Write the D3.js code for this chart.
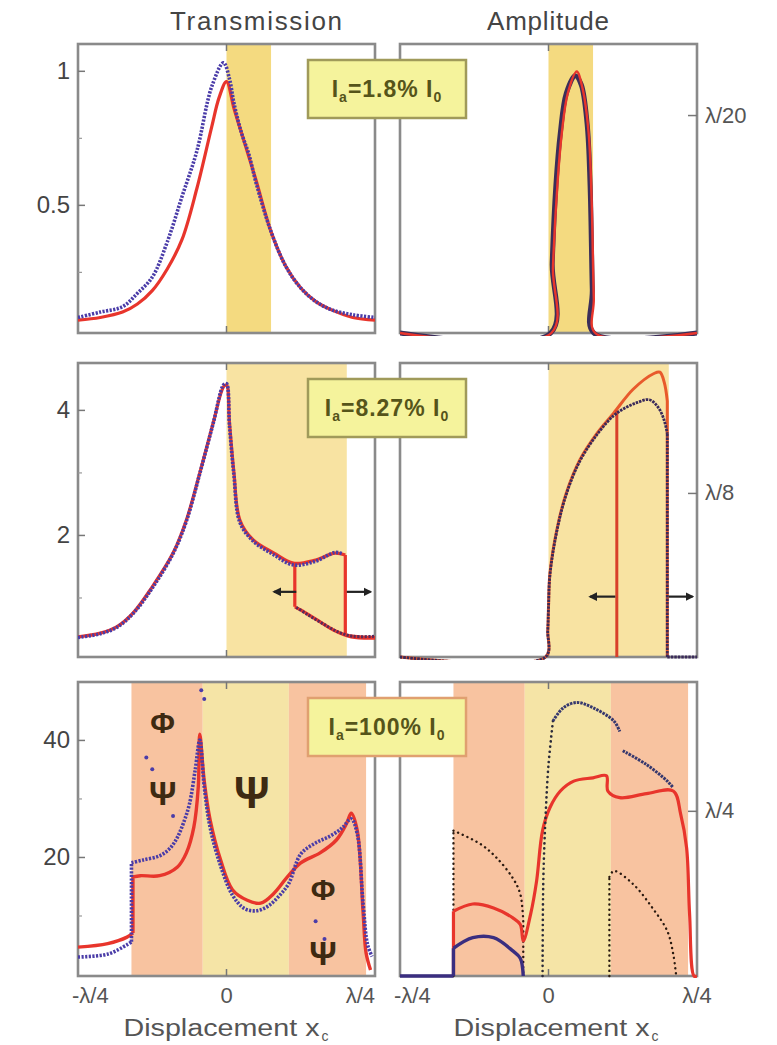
<!DOCTYPE html>
<html lang="en">
<head>
<meta charset="utf-8">
<title>Transmission / Amplitude</title>
<script src="https://cdn.jsdelivr.net/npm/d3@7"></script>
<style>
  body { margin: 0; background: #fff; }
  text { font-family: "Liberation Sans", Arial, sans-serif; }
</style>
</head>
<body>
<svg width="777" height="1045"></svg>
<script>
// ---- data (x in units of lambda/4, -1 .. 1) ----
const xTickVals = [-1, 0, 1];
const xTickLabels = ["-λ/4", "0", "λ/4"];
const boxLabels = ["1.8%", "8.27%", "100%"];

// row 1 : transmission
const t1RedX = [-1, -0.85, -0.7, -0.6, -0.5, -0.4, -0.3, -0.2, -0.1, -0.05, 0, 0.05, 0.1, 0.15, 0.2, 0.3, 0.4, 0.5, 0.6, 0.7, 0.85, 1];
const t1RedY = [0.07, 0.08, 0.1, 0.13, 0.18, 0.26, 0.37, 0.56, 0.79, 0.9, 0.96, 0.86, 0.77, 0.68, 0.59, 0.40, 0.27, 0.19, 0.14, 0.11, 0.08, 0.07];
const t1BlueX = [-1, -0.85, -0.7, -0.6, -0.5, -0.4, -0.3, -0.2, -0.1, -0.02, 0.02, 0.05, 0.1, 0.15, 0.2, 0.3, 0.4, 0.5, 0.6, 0.7, 0.85, 1];
const t1BlueY = [0.08, 0.1, 0.12, 0.17, 0.23, 0.36, 0.53, 0.70, 0.94, 1.03, 0.97, 0.88, 0.77, 0.69, 0.58, 0.40, 0.27, 0.19, 0.14, 0.11, 0.09, 0.08];
// row 1 : amplitude
const a1RedX = [-1, 0.02, 0.03, 0.06, 0.09, 0.13, 0.19, 0.23, 0.27, 0.29, 0.305, 0.315, 1];
const a1RedY = [0, 0, 0.015, 0.034, 0.046, 0.055, 0.06, 0.056, 0.046, 0.031, 0.008, 0, 0];
const a1BlueX = [-1, 0.015, 0.025, 0.05, 0.08, 0.12, 0.18, 0.22, 0.26, 0.28, 0.295, 0.305, 1];
const a1BlueY = [0, 0, 0.016, 0.034, 0.046, 0.055, 0.059, 0.057, 0.048, 0.034, 0.01, 0, 0];

// row 2 : transmission
const t2RedX = [-1, -0.85, -0.74, -0.63, -0.5, -0.36, -0.27, -0.18, -0.09, -0.02, 0, 0.02, 0.05, 0.09, 0.18, 0.32, 0.45, 0.6, 0.73, 0.8, 0.8, 0.9, 1];
const t2RedY = [0.37, 0.43, 0.53, 0.75, 1.17, 1.71, 2.24, 2.99, 3.79, 4.37, 4.4, 3.8, 3.0, 2.24, 1.92, 1.71, 1.55, 1.6, 1.71, 1.68, 0.4, 0.37, 0.36];
const t2RedLowX = [0.46, 0.46, 0.5, 0.61, 0.72, 0.84, 1];
const t2RedLowY = [1.55, 0.85, 0.8, 0.64, 0.48, 0.37, 0.35];
const t2BlueX = [-1, -0.85, -0.74, -0.63, -0.5, -0.36, -0.27, -0.18, -0.09, -0.02, 0, 0.02, 0.05, 0.09, 0.18, 0.32, 0.45, 0.6, 0.73, 0.78];
const t2BlueY = [0.36, 0.42, 0.52, 0.74, 1.15, 1.70, 2.22, 2.98, 3.78, 4.4, 4.42, 3.75, 2.95, 2.2, 1.9, 1.68, 1.52, 1.58, 1.72, 1.7];
const t2BlueLowX = [0.47, 0.55, 0.65, 0.75, 0.85, 1];
const t2BlueLowY = [0.84, 0.72, 0.58, 0.45, 0.38, 0.38];
// row 2 : amplitude
const a2RedX = [-1, -0.02, -0.005, 0.0, 0.01, 0.06, 0.12, 0.21, 0.33, 0.44, 0.57, 0.71, 0.75, 0.78, 0.8, 0.8];
const a2RedY = [0, 0, 0.02, 0.038, 0.064, 0.099, 0.125, 0.150, 0.171, 0.186, 0.204, 0.216, 0.217, 0.209, 0.195, 0];
const a2RedLowX = [0.46, 0.46];
const a2RedLowY = [0.188, 0];
const a2BlueX = [-1, -0.02, -0.005, 0.0, 0.01, 0.06, 0.12, 0.21, 0.33, 0.44, 0.52, 0.6, 0.68, 0.74, 0.78, 0.8, 0.8, 1];
const a2BlueY = [0, 0, 0.02, 0.037, 0.063, 0.098, 0.124, 0.149, 0.170, 0.184, 0.19, 0.194, 0.196, 0.19, 0.18, 0.17, 0, 0];

// row 3 : transmission
const t3RedX = [-1, -0.8, -0.67, -0.63, -0.63, -0.58, -0.45, -0.33, -0.27, -0.22, -0.19, -0.18, -0.15, -0.11, -0.04, 0.04, 0.14, 0.23, 0.32, 0.41, 0.5, 0.63, 0.74, 0.81, 0.84, 0.88, 0.92, 0.94, 0.97];
const t3RedY = [4.6, 5.2, 6.3, 7, 16.6, 16.8, 16.8, 18.3, 20.7, 25.1, 32, 41, 33, 26.3, 19.5, 14.4, 12.6, 12.1, 13.8, 16.6, 19, 20.7, 22.9, 25.8, 27.5, 24.6, 10.4, 3.6, 0.7];
const t3BlueX = [-1, -0.8, -0.67, -0.64, -0.64, -0.56, -0.45, -0.38, -0.33, -0.29, -0.25, -0.21, -0.18, -0.15, -0.11, -0.04, 0.04, 0.12, 0.2, 0.28, 0.36, 0.42, 0.5, 0.6, 0.7, 0.78, 0.84, 0.88, 0.92, 0.95, 0.98];
const t3BlueY = [2.9, 3.4, 5.0, 5.5, 19, 19.5, 20.2, 21.5, 23.4, 25.8, 29, 35, 40, 32, 25, 18.5, 13.5, 11.2, 10.8, 11.6, 13.5, 15.5, 20.5, 22.4, 23.6, 25, 26.5, 24, 12, 5, 3];
const t3ScatterX = [-0.54, -0.5, -0.17, -0.15, -0.36, 0.6, 0.66];
const t3ScatterY = [37, 35, 48.5, 47, 27, 9, 6];
// row 3 : amplitude
const a3RedX = [-0.64, -0.64, -0.51, -0.37, -0.24, -0.19, -0.17, -0.12, -0.08, -0.04, 0.01, 0.08, 0.17, 0.3, 0.39, 0.40, 0.48, 0.66, 0.84, 0.89, 0.93, 0.95, 0.98, 1];
const a3RedY = [0, 0.098, 0.109, 0.103, 0.088, 0.078, 0.053, 0.094, 0.144, 0.22, 0.255, 0.28, 0.295, 0.30, 0.303, 0.28, 0.27, 0.276, 0.28, 0.245, 0.194, 0.094, 0, 0];
const a3BlueLowX = [-1, -0.64, -0.64, -0.51, -0.37, -0.24, -0.19, -0.17];
const a3BlueLowY = [0, 0, 0.042, 0.058, 0.058, 0.038, 0.027, 0.0];
const a3BlueUpX = [-0.04, -0.035, -0.02, 0.0, 0.03, 0.1, 0.19, 0.3, 0.44, 0.48];
const a3BlueUpY = [0, 0.144, 0.24, 0.32, 0.386, 0.406, 0.414, 0.406, 0.386, 0.37];
const a3BlueTailX = [0.5, 0.66, 0.8, 0.84];
const a3BlueTailY = [0.341, 0.32, 0.295, 0.285];
const a3DotLX = [-0.64, -0.64, -0.46, -0.35, -0.24, -0.19, -0.17, -0.17];
const a3DotLY = [0, 0.22, 0.2, 0.179, 0.148, 0.124, 0.083, 0];
const a3DotRX = [0.41, 0.41, 0.44, 0.57, 0.7, 0.8, 0.84, 0.86];
const a3DotRY = [0, 0.15, 0.159, 0.139, 0.103, 0.068, 0.033, 0];

// shaded regions [x0, x1, colour]
const bands1 = [[0, 0.3, "#f4da80"]];
const bands2 = [[0, 0.81, "#f8e3a2"]];
const bands3 = [[-0.64, -0.16, "#f8c3a0"], [-0.16, 0.42, "#f5e4a6"], [0.42, 0.94, "#f8c3a0"]];

// left y ticks
const t1Ticks = [0.5, 1], t1Minor = [0.25, 0.75];
const t2Ticks = [2, 4], t2Minor = [1, 3];
const t3Ticks = [20, 40], t3Minor = [10, 30];
const ampTicks = [0.05, 0.125, 0.25];
const ampTickLabels = ["λ/20", "λ/8", "λ/4"];

// pictograms in panel 3 (x, value)
const iconSym = ["Φ", "Ψ", "Ψ", "Φ", "Ψ"];
const iconX = [-0.43, -0.43, 0.17, 0.65, 0.65];
const iconY = [43, 31, 31, 14.5, 3.5];
const iconSize = [30, 34, 44, 30, 34];

// ---- layout ----
const svg = d3.select("svg");
const colL = [78, 375], colR = [400, 697];
const rows = [[333, 44], [657, 363], [976, 682]];
const red = "#e8352c", blue = "#4a3ca8";

const defs = svg.append("defs");
defs.append("marker").attr("id", "ah").attr("viewBox", "0 0 10 10")
  .attr("refX", 8).attr("refY", 5).attr("markerWidth", 4).attr("markerHeight", 4)
  .attr("orient", "auto")
  .append("path").attr("d", "M0,0L10,5L0,10z").attr("fill", "#222");

function panel(id, col, row, yDomain, bands) {
  const x = d3.scaleLinear().domain([-1, 1]).range(col);
  const y = d3.scaleLinear().domain(yDomain).range(row);
  const g = svg.append("g");
  defs.append("clipPath").attr("id", "c" + id).append("rect")
    .attr("x", col[0]).attr("y", row[1] - 2).attr("width", col[1] - col[0]).attr("height", row[0] - row[1] + 5);
  g.selectAll("rect.band").data(bands).join("rect").attr("class", "band")
    .attr("x", d => x(d[0])).attr("width", d => x(d[1]) - x(d[0]))
    .attr("y", row[1]).attr("height", row[0] - row[1]).attr("fill", d => d[2]);
  // frame under the curves
  g.append("rect").attr("x", col[0]).attr("y", row[1])
    .attr("width", col[1] - col[0]).attr("height", row[0] - row[1])
    .attr("fill", "none").attr("stroke", "#8a8a8a").attr("stroke-width", 2.6);
  [row[0], row[1]].forEach((yy, k) => {
    g.append("line").attr("x1", x(0)).attr("x2", x(0))
      .attr("y1", yy).attr("y2", k === 0 ? yy - 7 : yy + 7)
      .attr("stroke", "#777").attr("stroke-width", 1.5);
  });
  const plot = g.append("g").attr("clip-path", `url(#c${id})`);
  return {x, y, g, plot, col, row};
}

// smooth runs, straight vertical jumps where x repeats
function curve(p, xs, ys, style) {
  const pts = xs.map((d, i) => [p.x(d), p.y(ys[i])]);
  const line = d3.line().curve(d3.curveCatmullRom.alpha(0.5));
  let d = "", run = [pts[0]];
  for (let i = 1; i < pts.length; i++) {
    if (pts[i][0] === pts[i - 1][0]) {
      if (run.length > 1) d += line(run);
      d += `M${pts[i - 1][0]},${pts[i - 1][1]}L${pts[i][0]},${pts[i][1]}`;
      run = [pts[i]];
    } else run.push(pts[i]);
  }
  if (run.length > 1) d += line(run);
  p.plot.append("path").attr("d", d).attr("fill", "none")
    .attr("stroke", style.c).attr("stroke-width", style.w)
    .attr("stroke-dasharray", style.dash || null)
    .attr("stroke-linecap", style.cap || "butt")
    .attr("stroke-linejoin", "round");
}
const redS = {c: red, w: 3.2};
const blueS = {c: blue, w: 3.6, dash: "2.2 1.4"};
const dotS = {c: "#2a1a10", w: 2.4, dash: "0.1 5", cap: "round"};

function leftAxis(p, ticks, minor) {
  const ax = d3.axisLeft(p.y).tickValues(ticks).tickSize(-7).tickPadding(8)
    .tickFormat(d => d3.format("")(d));
  const ag = p.g.append("g").attr("transform", `translate(${p.col[0]},0)`).call(ax);
  ag.select(".domain").remove();
  ag.selectAll("line").attr("stroke", "#777").attr("stroke-width", 1.5);
  ag.selectAll("text").attr("font-size", 24).attr("fill", "#444");
  const mg = p.g.append("g").attr("transform", `translate(${p.col[0]},0)`)
    .call(d3.axisLeft(p.y).tickValues(minor).tickSize(-4).tickFormat(""));
  mg.select(".domain").remove();
  mg.selectAll("line").attr("stroke", "#999").attr("stroke-width", 1.2);
}

function rightAxis(p, v, label) {
  const ag = p.g.append("g").attr("transform", `translate(${p.col[1]},0)`)
    .call(d3.axisRight(p.y).tickValues([v]).tickSize(-9).tickPadding(8).tickFormat(() => label));
  ag.select(".domain").remove();
  ag.selectAll("line").attr("stroke", "#777").attr("stroke-width", 1.5);
  ag.selectAll("text").attr("font-size", 22).attr("fill", "#555");
}

function box(rowTop, label, border) {
  const bx = 308, by = rowTop + 16, bw = 158, bh = 58;
  svg.append("rect").attr("x", bx).attr("y", by).attr("width", bw).attr("height", bh)
    .attr("fill", "#f5f39c").attr("stroke", border).attr("stroke-width", 2.5);
  const t = svg.append("text").attr("x", bx + bw / 2).attr("y", by + bh / 2 + 8)
    .attr("text-anchor", "middle").attr("font-size", 23).attr("font-weight", "bold")
    .attr("letter-spacing", 1).attr("fill", "#55541a");
  t.append("tspan").text("I");
  t.append("tspan").attr("font-size", 14).attr("dy", 5).text("a");
  t.append("tspan").attr("dy", -5).text("=" + label + " I");
  t.append("tspan").attr("font-size", 14).attr("dy", 5).text("0");
}

function arrow(p, x0, x1, v) {
  p.g.append("line").attr("x1", p.x(x0)).attr("x2", p.x(x1)).attr("y1", p.y(v)).attr("y2", p.y(v))
    .attr("stroke", "#222").attr("stroke-width", 2.2).attr("marker-end", "url(#ah)");
}

// ---- row 1 ----
const p1 = panel(1, colL, rows[0], [0.022, 1.10], bands1);
curve(p1, t1RedX, t1RedY, redS);
curve(p1, t1BlueX, t1BlueY, blueS);
leftAxis(p1, t1Ticks, t1Minor);
const q1 = panel(2, colR, rows[0], [0, 0.0663], bands1);
curve(q1, a1BlueX, a1BlueY, {c: "#3a2e5a", w: 5});
curve(q1, a1RedX, a1RedY, {c: red, w: 2.4});
rightAxis(q1, ampTicks[0], ampTickLabels[0]);

// ---- row 2 ----
const p2 = panel(3, colL, rows[1], [0.048, 4.75], bands2);
curve(p2, t2RedX, t2RedY, redS);
curve(p2, t2RedLowX, t2RedLowY, redS);
curve(p2, t2BlueX, t2BlueY, blueS);
curve(p2, t2BlueLowX, t2BlueLowY, {c: "#5a2a5a", w: 3, dash: "2.2 1.4"});
arrow(p2, 0.47, 0.32, 1.09);
arrow(p2, 0.81, 0.97, 1.09);
leftAxis(p2, t2Ticks, t2Minor);
const q2 = panel(4, colR, rows[1], [0, 0.224], bands2);
curve(q2, a2RedX, a2RedY, {c: "#e85a2c", w: 3});
curve(q2, a2RedLowX, a2RedLowY, {c: "#d8402a", w: 3});
curve(q2, a2BlueX, a2BlueY, {c: "#3a2a5a", w: 2.8, dash: "2.5 1"});
arrow(q2, 0.45, 0.28, 0.046);
arrow(q2, 0.81, 0.97, 0.046);
rightAxis(q2, ampTicks[1], ampTickLabels[1]);

// ---- row 3 ----
const p3 = panel(5, colL, rows[2], [-0.34, 49.9], bands3);
curve(p3, t3RedX, t3RedY, {c: red, w: 3.4});
curve(p3, t3BlueX, t3BlueY, blueS);
p3.plot.selectAll("circle.sc").data(t3ScatterX).join("circle").attr("class", "sc")
  .attr("cx", d => p3.x(d)).attr("cy", (d, i) => p3.y(t3ScatterY[i])).attr("r", 2).attr("fill", blue);
p3.plot.selectAll("text.icon").data(iconSym).join("text").attr("class", "icon")
  .attr("x", (d, i) => p3.x(iconX[i])).attr("y", (d, i) => p3.y(iconY[i]))
  .attr("dy", "0.35em").attr("text-anchor", "middle").attr("font-weight", "bold")
  .attr("font-size", (d, i) => iconSize[i]).attr("fill", "#3e2a12").text(d => d);
leftAxis(p3, t3Ticks, t3Minor);
const q3 = panel(6, colR, rows[2], [0, 0.445], bands3);
curve(q3, a3DotLX, a3DotLY, dotS);
curve(q3, a3DotRX, a3DotRY, dotS);
curve(q3, a3RedX, a3RedY, {c: red, w: 3.2});
curve(q3, a3BlueLowX, a3BlueLowY, {c: "#3a2e80", w: 3.4});
curve(q3, a3BlueUpX.slice(0, 5), a3BlueUpY.slice(0, 5), {c: "#2a2a3a", w: 2.6, dash: "0.1 5", cap: "round"});
curve(q3, a3BlueUpX.slice(4), a3BlueUpY.slice(4), {c: "#36386e", w: 3, dash: "2.5 1"});
curve(q3, a3BlueTailX, a3BlueTailY, {c: "#36386e", w: 3, dash: "2.5 1"});
rightAxis(q3, ampTicks[2], ampTickLabels[2]);

// label boxes
box(rows[0][1], boxLabels[0], "#a09a5a");
box(rows[1][1], boxLabels[1], "#a09a5a");
box(rows[2][1], boxLabels[2], "#e0a070");

// column titles
svg.append("text").attr("x", 256).attr("y", 30).attr("text-anchor", "middle")
  .attr("font-size", 26).attr("fill", "#444").attr("textLength", 172).text("Transmission");
svg.append("text").attr("x", 548).attr("y", 30).attr("text-anchor", "middle")
  .attr("font-size", 26).attr("fill", "#444").attr("textLength", 122).text("Amplitude");

// bottom x tick labels and axis titles
[p3, q3].forEach((p, k) => {
  const anchors = k === 0 ? ["start", "middle", "end"] : ["start", "middle", "middle"];
  svg.selectAll(null).data(xTickVals).join("text")
    .attr("x", (d, i) => p.x(d) + (i === 0 ? -6 : 0))
    .attr("y", 1003).attr("text-anchor", (d, i) => anchors[i])
    .attr("font-size", 22).attr("fill", "#555").text((d, i) => xTickLabels[i]);
  const x0 = p.x(0) - 103 + (k === 0 ? 0 : 8);
  svg.append("text").attr("x", x0).attr("y", 1036)
    .attr("font-size", 23).attr("fill", "#555").attr("textLength", 196)
    .attr("lengthAdjust", "spacingAndGlyphs").text("Displacement x");
  svg.append("text").attr("x", x0 + 198).attr("y", 1041)
    .attr("font-size", 14).attr("fill", "#555").text("c");
});
</script>
</body>
</html>
